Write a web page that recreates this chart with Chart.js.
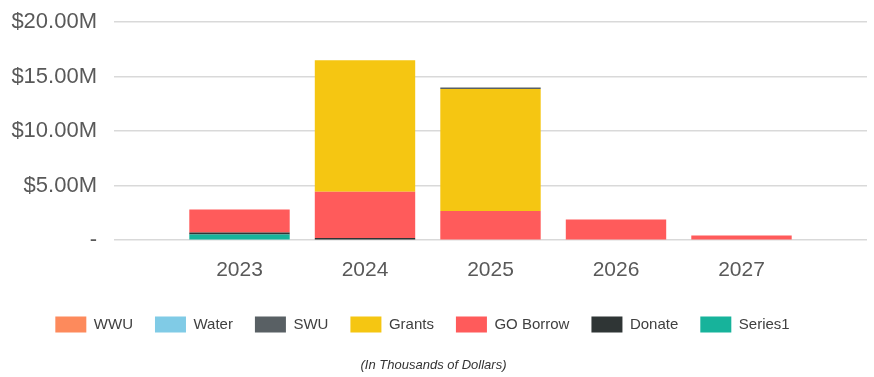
<!DOCTYPE html>
<html lang="en">
<head>
    <meta charset="UTF-8">
    <title>Funding by Source</title>
    <style>
        html, body { margin: 0; padding: 0; background: #fff; }
        #wrap { width: 874px; height: 377px; }
    </style>
    <script src="https://cdn.jsdelivr.net/npm/chart.js"></script>
</head>
<body>
    <div id="wrap"><canvas id="fundingChart" width="874" height="377"></canvas></div>
    <script>
        // Years shown on the axis (blank slots keep the outer padding)
        const years = ['', '2023', '2024', '2025', '2026', '2027', ''];

        // Funding per source, $ millions
        const wwu      = [null, 0,    0,     0,    0,   0,    null];
        const water    = [null, 0,    0,     0,    0,   0,    null];
        const swu      = [null, 0,    0,     0.12, 0,   0,    null];
        const grants   = [null, 0,    12.05, 11.2, 0,   0,    null];
        const goBorrow = [null, 2.12, 4.24,  2.67, 1.9, 0.43, null];
        const donate   = [null, 0.18, 0.2,   0,    0,   0,    null];
        const series1  = [null, 0.52, 0,     0,    0,   0,    null];

        const yTicks = [0, 5, 10, 15, 20];

        const font = "'Liberation Sans', Arial, sans-serif";

        // stacked bottom-up: Series1 first, WWU on top
        const datasets = [
            { label: 'Series1',   data: series1,  backgroundColor: '#17b39b' },
            { label: 'Donate',    data: donate,   backgroundColor: '#2f3535' },
            { label: 'GO Borrow', data: goBorrow, backgroundColor: '#ff5b5b' },
            { label: 'Grants',    data: grants,   backgroundColor: '#f5c612' },
            { label: 'SWU',       data: swu,      backgroundColor: '#596064' },
            { label: 'Water',     data: water,    backgroundColor: '#80cbe6' },
            { label: 'WWU',       data: wwu,      backgroundColor: '#fd8a5c' }
        ];

        // nudge the legend a little up and left of its default slot
        const legendNudge = {
            id: 'legendNudge',
            afterLayout(chart) {
                const lg = chart.legend;
                lg.left -= 11; lg.right -= 11;
                lg.top -= 5; lg.bottom -= 5;
            }
        };

        const ctx = document.getElementById('fundingChart').getContext('2d');
        new Chart(ctx, {
            type: 'bar',
            data: { labels: years, datasets: datasets },
            plugins: [legendNudge],
            options: {
                responsive: false,
                animation: false,
                layout: { padding: { top: 22, right: 7, left: 0, bottom: 4 } },
                datasets: {
                    bar: { categoryPercentage: 1, barPercentage: 0.8 }
                },
                scales: {
                    x: {
                        stacked: true,
                        offset: false,
                        grid: { display: false, drawTicks: false },
                        border: { display: false },
                        afterFit: axis => { axis.paddingLeft = 0; axis.paddingRight = 0; },
                        ticks: {
                            padding: 17,
                            color: '#595959',
                            font: { family: font, size: 21 }
                        }
                    },
                    y: {
                        stacked: true,
                        min: 0,
                        max: 20,
                        afterBuildTicks: axis => {
                            axis.ticks = yTicks.map(v => ({ value: v }));
                        },
                        afterFit: axis => {
                            axis.width = 114;
                            axis.paddingTop = 0;
                            axis.paddingBottom = 0;
                        },
                        grid: { color: '#d9d9d9', lineWidth: 1.5, drawTicks: false },
                        border: { display: false },
                        ticks: {
                            padding: 17,
                            color: '#595959',
                            font: { family: font, size: 22 },
                            callback: v => v === 0 ? '-' : '$' + v.toFixed(2) + 'M'
                        }
                    }
                },
                plugins: {
                    legend: {
                        position: 'bottom',
                        reverse: true,
                        labels: {
                            boxWidth: 31,
                            boxHeight: 16,
                            padding: 22,
                            color: '#404040',
                            font: { family: font, size: 15 }
                        }
                    },
                    subtitle: {
                        display: true,
                        text: '(In Thousands of Dollars)',
                        position: 'bottom',
                        color: '#333',
                        font: { family: font, size: 13, style: 'italic', weight: 'normal' },
                        padding: { top: 10, bottom: 0 }
                    },
                    tooltip: { enabled: false }
                }
            }
        });
    </script>
</body>
</html>
